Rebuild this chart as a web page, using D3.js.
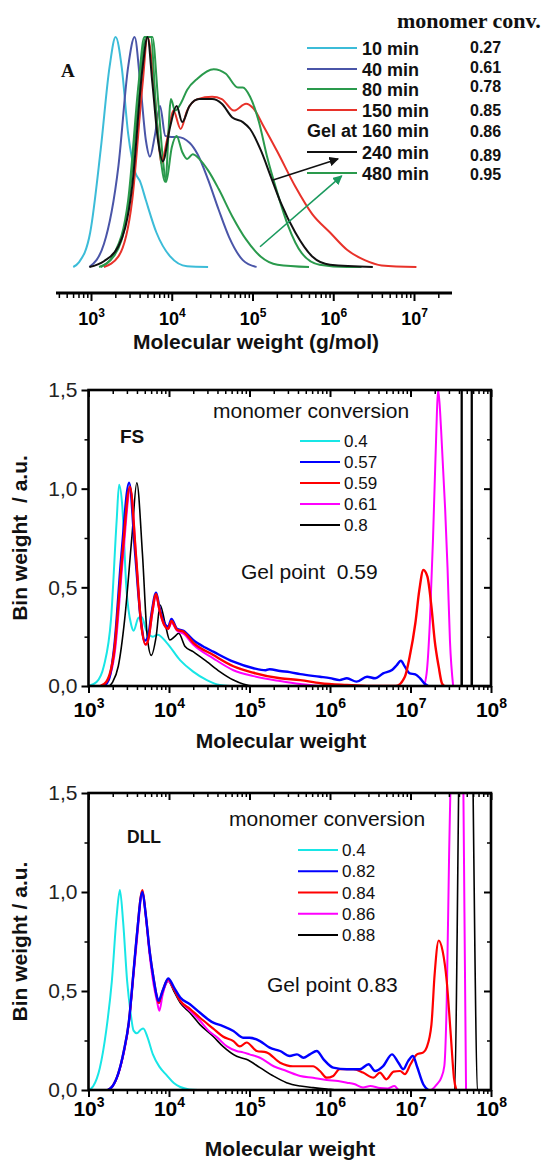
<!DOCTYPE html>
<html>
<head>
<meta charset="utf-8">
<script src="https://cdn.jsdelivr.net/npm/d3@7"></script>
<style>
  body { margin: 0; background: #fff; }
  svg { display: block; }
</style>
</head>
<body>
<svg id="fig" width="544" height="1162"></svg>
<script>
// ---------- Panel A: GPC molecular weight distributions (log10 M, normalised height) ----------
const aNames = ["10 min", "40 min", "80 min", "150 min", "240 min", "480 min"];
const aConv = ["0.27", "0.61", "0.78", "0.85", "0.86", "0.89", "0.95"];
const aColors = ["#3cbcd8", "#4a55a8", "#2a9a4c", "#e8322a", "#111111", "#2a9a4c"];

const a10 = [[2.78,0],[2.85,0.02],[2.99,0.15],[3.12,0.51],[3.23,0.87],[3.305,1.0],[3.38,0.87],[3.46,0.58],[3.55,0.41],[3.61,0.37],[3.68,0.29],[3.81,0.15],[3.98,0.046],[4.19,0.003],[4.45,0]];
const a40 = [[2.98,0],[3.16,0.10],[3.34,0.44],[3.46,0.87],[3.54,1.0],[3.61,0.8],[3.68,0.55],[3.73,0.48],[3.79,0.57],[3.855,0.70],[3.92,0.57],[4.0,0.565],[4.07,0.565],[4.22,0.54],[4.32,0.49],[4.45,0.38],[4.58,0.25],[4.71,0.13],[4.88,0.03],[5.05,0]];
const a80 = [[3.10,0],[3.29,0.05],[3.46,0.26],[3.59,0.73],[3.68,1.0],[3.76,1.0],[3.83,0.73],[3.89,0.47],[3.93,0.37],[4.0,0.52],[4.06,0.57],[4.13,0.50],[4.19,0.47],[4.26,0.49],[4.34,0.47],[4.45,0.42],[4.58,0.34],[4.75,0.22],[4.92,0.12],[5.10,0.046],[5.31,0.01],[5.70,0]];
const a150 = [[3.16,0],[3.34,0.046],[3.51,0.29],[3.64,0.80],[3.70,1.0],[3.76,0.87],[3.83,0.58],[3.87,0.45],[3.94,0.55],[4.02,0.68],[4.11,0.60],[4.19,0.68],[4.32,0.73],[4.50,0.74],[4.62,0.73],[4.77,0.68],[4.92,0.71],[5.01,0.69],[5.14,0.61],[5.31,0.50],[5.53,0.35],[5.74,0.23],[5.96,0.15],[6.17,0.075],[6.39,0.03],[6.60,0.007],[7.03,0]];
const a240 = [[2.98,0],[3.16,0.025],[3.34,0.09],[3.51,0.35],[3.64,0.87],[3.70,1.0],[3.76,0.80],[3.83,0.55],[3.89,0.46],[3.98,0.61],[4.06,0.70],[4.13,0.63],[4.22,0.70],[4.34,0.73],[4.50,0.73],[4.62,0.71],[4.75,0.65],[4.88,0.63],[4.97,0.60],[5.10,0.51],[5.23,0.39],[5.35,0.28],[5.53,0.15],[5.74,0.046],[5.96,0.01],[6.49,0]];
const a480 = [[3.12,0],[3.29,0.06],[3.46,0.29],[3.59,0.80],[3.66,1.0],[3.74,1.0],[3.81,0.66],[3.86,0.48],[3.92,0.37],[3.99,0.73],[4.04,0.68],[4.11,0.71],[4.19,0.77],[4.32,0.82],[4.52,0.86],[4.67,0.84],[4.82,0.78],[4.88,0.78],[4.97,0.74],[5.08,0.63],[5.18,0.48],[5.31,0.32],[5.44,0.18],[5.61,0.06],[5.83,0.01],[6.17,0],[6.35,0]];
// arrows from curves to legend entries: [start, end] in (log10 M, height)
const arrow240 = [[5.255,0.378],[6.06,0.47]];
const arrow480 = [[5.093,0.088],[6.105,0.396]];

// ---------- Panel FS: simulated bin weights (log10 M, bin weight) ----------
const fsNames = ["0.4", "0.57", "0.59", "0.61", "0.8"];
const fs04 = [[3.0,0],[3.1,0.02],[3.19,0.10],[3.28,0.34],[3.35,0.84],[3.38,1.02],[3.42,0.91],[3.47,0.50],[3.53,0.31],[3.56,0.28],[3.62,0.345],[3.66,0.35],[3.72,0.28],[3.80,0.25],[3.86,0.26],[3.97,0.22],[4.14,0.13],[4.30,0.073],[4.47,0.03],[4.63,0.005],[4.75,0]];
const fs057 = [[3.19,0],[3.25,0.03],[3.32,0.2],[3.41,0.67],[3.505,1.03],[3.58,0.67],[3.65,0.335],[3.70,0.23],[3.74,0.25],[3.78,0.36],[3.84,0.473],[3.88,0.40],[3.94,0.32],[3.99,0.30],[4.03,0.34],[4.10,0.29],[4.18,0.28],[4.30,0.233],[4.45,0.195],[4.55,0.174],[4.80,0.123],[5.05,0.09],[5.2,0.08],[5.25,0.085],[5.38,0.076],[5.5,0.07],[5.63,0.06],[5.875,0.047],[6.0,0.04],[6.12,0.030],[6.21,0.039],[6.33,0.022],[6.46,0.047],[6.56,0.039],[6.66,0.064],[6.77,0.081],[6.83,0.106],[6.88,0.128],[6.93,0.098],[6.99,0.064],[7.06,0.059],[7.12,0.039],[7.18,0.01],[7.22,0]];
const fs059 = [[3.15,0],[3.22,0.02],[3.32,0.18],[3.42,0.66],[3.515,1.01],[3.59,0.66],[3.65,0.33],[3.71,0.21],[3.75,0.25],[3.79,0.37],[3.84,0.465],[3.88,0.39],[3.94,0.31],[3.99,0.29],[4.03,0.33],[4.10,0.285],[4.18,0.275],[4.30,0.22],[4.55,0.157],[4.80,0.10],[5.05,0.067],[5.38,0.039],[5.63,0.03],[5.88,0.014],[6.21,0.005],[6.5,0],[6.82,0],[6.93,0.047],[6.99,0.149],[7.06,0.318],[7.11,0.487],[7.16,0.588],[7.21,0.554],[7.26,0.402],[7.30,0.233],[7.35,0.098],[7.39,0.014],[7.42,0]];
const fs061 = [[3.16,0],[3.23,0.02],[3.33,0.18],[3.43,0.66],[3.52,1.0],[3.59,0.66],[3.65,0.33],[3.71,0.21],[3.75,0.25],[3.79,0.36],[3.84,0.46],[3.88,0.385],[3.94,0.31],[3.99,0.29],[4.03,0.32],[4.10,0.28],[4.18,0.265],[4.30,0.21],[4.55,0.14],[4.80,0.08],[5.05,0.05],[5.38,0.025],[5.63,0.01],[5.88,0],[7.16,0],[7.20,0.064],[7.24,0.318],[7.28,0.75],[7.31,1.15],[7.345,1.5],[7.38,1.3],[7.43,0.9],[7.46,0.6],[7.49,0.23],[7.53,0]];
const fs08 = [[3.26,0],[3.30,0.02],[3.37,0.1],[3.45,0.34],[3.54,0.76],[3.60,1.03],[3.67,0.67],[3.73,0.25],[3.78,0.155],[3.84,0.25],[3.89,0.41],[3.95,0.32],[4.01,0.233],[4.07,0.25],[4.12,0.267],[4.20,0.2],[4.30,0.174],[4.47,0.123],[4.63,0.073],[4.80,0.03],[4.92,0.01],[5.05,0],[7.630,0],[7.636,5],[7.642,0],[7.755,0],[7.761,5],[7.767,0],[7.9,0]];

// ---------- Panel DLL ----------
const dllNames = ["0.4", "0.82", "0.84", "0.86", "0.88"];
const dll04 = [[3.0,0],[3.06,0.02],[3.14,0.11],[3.22,0.3],[3.29,0.55],[3.35,0.88],[3.39,1.01],[3.43,0.85],[3.48,0.55],[3.52,0.40],[3.56,0.30],[3.60,0.287],[3.65,0.305],[3.68,0.31],[3.73,0.27],[3.80,0.18],[3.88,0.118],[3.97,0.075],[4.06,0.035],[4.14,0.015],[4.25,0.003],[4.36,0]];
const dll082 = [[3.24,0],[3.30,0.02],[3.37,0.084],[3.44,0.2],[3.50,0.34],[3.56,0.6],[3.60,0.78],[3.67,1.0],[3.71,0.89],[3.76,0.70],[3.81,0.56],[3.85,0.47],[3.87,0.45],[3.92,0.50],[3.99,0.564],[4.06,0.52],[4.14,0.467],[4.26,0.433],[4.385,0.39],[4.55,0.34],[4.67,0.323],[4.80,0.298],[4.92,0.264],[5.0,0.264],[5.13,0.247],[5.25,0.214],[5.38,0.197],[5.50,0.172],[5.59,0.18],[5.67,0.163],[5.75,0.18],[5.835,0.197],[5.92,0.155],[6.04,0.113],[6.21,0.105],[6.37,0.105],[6.48,0.13],[6.56,0.096],[6.66,0.121],[6.77,0.18],[6.85,0.138],[6.91,0.105],[6.97,0.146],[7.03,0.172],[7.08,0.12],[7.16,0.028],[7.22,0]];
const dll084 = [[3.24,0],[3.30,0.02],[3.37,0.084],[3.44,0.2],[3.50,0.34],[3.56,0.6],[3.60,0.78],[3.67,1.01],[3.71,0.89],[3.76,0.70],[3.81,0.56],[3.85,0.47],[3.87,0.44],[3.92,0.50],[3.99,0.56],[4.06,0.51],[4.14,0.45],[4.26,0.41],[4.385,0.365],[4.55,0.31],[4.67,0.27],[4.80,0.247],[4.88,0.22],[4.965,0.24],[5.09,0.197],[5.21,0.19],[5.38,0.138],[5.54,0.12],[5.79,0.12],[5.875,0.096],[5.96,0.062],[6.04,0.071],[6.12,0.105],[6.29,0.105],[6.41,0.088],[6.54,0.062],[6.62,0.088],[6.70,0.054],[6.79,0.093],[6.87,0.096],[6.93,0.08],[7.0,0.13],[7.08,0.18],[7.16,0.19],[7.20,0.214],[7.26,0.33],[7.30,0.585],[7.35,0.755],[7.40,0.70],[7.45,0.55],[7.50,0.28],[7.54,0.06],[7.57,0]];
const dll086 = [[3.24,0],[3.30,0.02],[3.37,0.08],[3.44,0.19],[3.50,0.33],[3.56,0.58],[3.60,0.75],[3.67,1.0],[3.71,0.88],[3.76,0.68],[3.81,0.53],[3.85,0.45],[3.88,0.40],[3.92,0.48],[3.99,0.55],[4.06,0.51],[4.14,0.45],[4.26,0.40],[4.385,0.35],[4.49,0.30],[4.6,0.265],[4.72,0.22],[4.84,0.197],[4.92,0.19],[5.0,0.18],[5.13,0.163],[5.3,0.12],[5.46,0.096],[5.63,0.071],[5.79,0.062],[5.96,0.05],[6.1,0.045],[6.21,0.037],[6.3,0.03],[6.41,0.013],[6.5,0.02],[6.62,0.01],[6.72,0.008],[6.80,0.02],[6.86,0],[7.25,0],[7.33,0.03],[7.38,0.06],[7.42,0.12],[7.45,0.45],[7.48,1.2],[7.50,1.6],[7.58,3.0],[7.655,1.6],[7.67,0.9],[7.69,0]];
const dll088 = [[3.24,0],[3.30,0.02],[3.37,0.08],[3.44,0.19],[3.50,0.33],[3.56,0.59],[3.60,0.77],[3.67,1.0],[3.71,0.89],[3.76,0.69],[3.81,0.55],[3.85,0.47],[3.88,0.44],[3.92,0.49],[3.99,0.55],[4.06,0.50],[4.14,0.44],[4.26,0.39],[4.385,0.33],[4.55,0.27],[4.67,0.22],[4.84,0.17],[4.96,0.155],[5.13,0.113],[5.30,0.07],[5.46,0.037],[5.63,0.02],[5.79,0.012],[5.96,0.005],[6.1,0],[7.55,0],[7.58,0.8],[7.60,1.6],[7.69,3.0],[7.775,1.6],[7.80,0.7],[7.83,0],[7.95,0]];

const yTickVals = [0, 0.5, 1.0, 1.5];
const yMinorVals = [0.25, 0.75, 1.25];
const decades = [1e3, 1e4, 1e5, 1e6, 1e7, 1e8];

// ---------- drawing ----------
const SANS = "'Liberation Sans', Arial, Helvetica, sans-serif";
const SERIF = "'Liberation Serif', 'Times New Roman', serif";
const svg = d3.select("#fig");
svg.append("rect").attr("width", 544).attr("height", 1162).attr("fill", "#fff");

const lg = v => Math.pow(10, v);
function minorTicks(lo, hi) {
  const out = [];
  for (let e = lo; e < hi; e++) for (let k = 2; k <= 9; k++) out.push(k * Math.pow(10, e));
  return out;
}
function styleAxis(sel, w) {
  sel.select("path.domain").remove();
  sel.selectAll(".tick line").attr("stroke", "#000").attr("stroke-width", w);
}
function decadeLabels(g, size, sup, dy) {
  g.selectAll(".tick").each(function (d) {
    const e = Math.round(Math.log10(d));
    const t = d3.select(this).append("text")
      .attr("y", dy).attr("text-anchor", "middle")
      .attr("font-family", SANS).attr("font-weight", "bold")
      .attr("font-size", size).attr("fill", "#000");
    t.append("tspan").text("10");
    t.append("tspan").attr("font-size", sup).attr("dy", -size * 0.42).text(e);
  });
}
function txt(x, y, s, size, opts = {}) {
  return svg.append("text").attr("x", x).attr("y", y)
    .attr("font-family", opts.family || SANS)
    .attr("font-weight", opts.weight || "normal")
    .attr("font-size", size)
    .attr("fill", opts.fill || "#111")
    .attr("text-anchor", opts.anchor || "start")
    .style("white-space", "pre")
    .text(s);
}

// ===== Panel A =====
(function () {
  const x = d3.scaleLog().domain([lg(2.5666), lg(7.4706)]).range([56, 452]);
  const y = d3.scaleLinear().domain([0, 1]).range([267, 37]);
  const line = d3.line().x(d => x(lg(d[0]))).y(d => y(d[1])).curve(d3.curveMonotoneX);
  const series = [a10, a40, a80, a150, a480, a240];
  const cols = [aColors[0], aColors[1], aColors[2], aColors[3], aColors[5], aColors[4]];
  const g = svg.append("g");
  series.forEach((s, i) => g.append("path").attr("d", line(s)).attr("fill", "none")
    .attr("stroke", cols[i]).attr("stroke-width", 2).attr("stroke-linejoin", "round"));

  // bottom axis only
  const [d0, d1] = x.domain();
  const minors = minorTicks(2, 8).filter(v => v >= d0 && v <= d1);
  const ga = svg.append("g").attr("transform", "translate(0,293)");
  ga.append("g").call(d3.axisBottom(x).tickValues(minors).tickSize(5).tickSizeOuter(0).tickFormat(""))
    .call(s => styleAxis(s, 1.5));
  const gm = ga.append("g").call(d3.axisBottom(x).tickValues(decades.slice(0, 5)).tickSize(8).tickSizeOuter(0).tickFormat(""))
    .call(s => styleAxis(s, 2));
  ga.append("line").attr("x1", x.range()[0]).attr("x2", x.range()[1]).attr("stroke", "#000").attr("stroke-width", 3);
  decadeLabels(gm, 18, 12, 32);
  txt(256, 349, "Molecular weight (g/mol)", 21, { weight: "bold", anchor: "middle" });
  txt(61, 77, "A", 19, { family: SERIF, weight: "bold" });

  // legend
  const rowsY = [48, 69, 89, 110, 152, 173];
  const legSeries = [0, 1, 2, 3, 4, 5];
  legSeries.forEach((k, i) => {
    svg.append("line").attr("x1", 307).attr("x2", 357).attr("y1", rowsY[i]).attr("y2", rowsY[i])
      .attr("stroke", aColors[k]).attr("stroke-width", 2);
    txt(362, rowsY[i] + 7, aNames[k], 18, { weight: "bold" });
  });
  txt(307, 137, "Gel at 160 min", 18, { weight: "bold" });
  const convY = [53, 73, 92, 116, 137, 161, 180];
  aConv.forEach((c, i) => txt(470, convY[i], c, 16, { weight: "bold" }));
  txt(397, 28, "monomer conv.", 22, { family: SERIF, weight: "bold" });

  // arrows
  const defs = svg.append("defs");
  [["arrBlack", aColors[4]], ["arrGreen", "#1a9a5e"]].forEach(([id, c]) => {
    defs.append("marker").attr("id", id).attr("viewBox", "0 0 10 10").attr("refX", 9).attr("refY", 5)
      .attr("markerWidth", 6).attr("markerHeight", 6).attr("orient", "auto")
      .append("path").attr("d", "M0,0 L10,5 L0,10 z").attr("fill", c);
  });
  [[arrow240, aColors[4], "arrBlack"], [arrow480, "#1a9a5e", "arrGreen"]].forEach(([a, c, m]) => {
    svg.append("line").attr("x1", x(lg(a[0][0]))).attr("y1", y(a[0][1]))
      .attr("x2", x(lg(a[1][0]))).attr("y2", y(a[1][1]))
      .attr("stroke", c).attr("stroke-width", 1.6).attr("marker-end", `url(#${m})`);
  });
})();

// ===== Panels FS and DLL =====
function gelPanel(p) {
  const x = d3.scaleLog().domain([1e3, 1e8]).range([p.left, p.right]);
  const y = d3.scaleLinear().domain([0, 1.5]).range([p.bottom, p.top]);
  const line = d3.line().x(d => x(lg(d[0]))).y(d => y(d[1])).curve(d3.curveMonotoneX);
  const clipId = "clip" + p.id;
  svg.append("clipPath").attr("id", clipId).append("rect")
    .attr("x", p.left).attr("y", p.top).attr("width", p.right - p.left).attr("height", p.bottom - p.top);
  const cg = svg.append("g").attr("clip-path", `url(#${clipId})`);
  p.order.forEach(i => cg.append("path").attr("d", line(p.series[i])).attr("fill", "none")
    .attr("stroke", p.colors[i]).attr("stroke-width", p.widths[i]).attr("stroke-linejoin", "round"));

  const minX = minorTicks(3, 8);
  // bottom (outward) and top (inward)
  const gb = svg.append("g").attr("transform", `translate(0,${p.bottom})`);
  gb.append("g").call(d3.axisBottom(x).tickValues(minX).tickSize(4).tickSizeOuter(0).tickFormat("")).call(s => styleAxis(s, 1.5));
  const gbm = gb.append("g").call(d3.axisBottom(x).tickValues(decades).tickSize(7).tickSizeOuter(0).tickFormat("")).call(s => styleAxis(s, 2));
  decadeLabels(gbm, 21, 14, p.xLabDy);
  const gt = svg.append("g").attr("transform", `translate(0,${p.top})`);
  gt.append("g").call(d3.axisTop(x).tickValues(minX).tickSize(-4).tickSizeOuter(0).tickFormat("")).call(s => styleAxis(s, 1.5));
  gt.append("g").call(d3.axisTop(x).tickValues(decades).tickSize(-7).tickSizeOuter(0).tickFormat("")).call(s => styleAxis(s, 2));
  // left (outward, labelled) and right (inward)
  const gl = svg.append("g").attr("transform", `translate(${p.left},0)`);
  gl.append("g").call(d3.axisLeft(y).tickValues(yMinorVals).tickSize(4).tickSizeOuter(0).tickFormat("")).call(s => styleAxis(s, 1.5));
  gl.append("g").call(d3.axisLeft(y).tickValues(yTickVals).tickSize(7).tickSizeOuter(0).tickPadding(4)
      .tickFormat(d => d.toFixed(1).replace(".", ",")))
    .call(s => styleAxis(s, 2))
    .call(s => s.selectAll("text").attr("font-family", SANS).attr("font-size", 21).attr("fill", "#222"));
  const gr = svg.append("g").attr("transform", `translate(${p.right},0)`);
  gr.append("g").call(d3.axisRight(y).tickValues(yMinorVals).tickSize(-4).tickSizeOuter(0).tickFormat("")).call(s => styleAxis(s, 1.5));
  gr.append("g").call(d3.axisRight(y).tickValues(yTickVals).tickSize(-7).tickSizeOuter(0).tickFormat("")).call(s => styleAxis(s, 2));
  // frame
  svg.append("rect").attr("x", p.left).attr("y", p.top).attr("width", p.right - p.left).attr("height", p.bottom - p.top)
    .attr("fill", "none").attr("stroke", "#000").attr("stroke-width", 2.6);

  // titles and annotations
  txt(p.xTitle[0], p.xTitle[1], "Molecular weight", 21, { weight: "bold", anchor: "middle" });
  svg.append("text").attr("transform", `translate(27,${(p.top + p.bottom) / 2}) rotate(-90)`)
    .attr("text-anchor", "middle").attr("font-family", SANS).attr("font-weight", "bold")
    .attr("font-size", 21).attr("fill", "#111").style("white-space", "pre").text(p.yTitle);
  txt(p.tag[0], p.tag[1], p.tag[2], p.tag[3], { weight: "bold" });
  txt(p.mc[0], p.mc[1], "monomer conversion", 21);
  txt(p.gel[0], p.gel[1], p.gel[2], 21);
  p.names.forEach((n, i) => {
    const ly = p.leg.y0 + i * p.leg.dy;
    svg.append("line").attr("x1", p.leg.x1).attr("x2", p.leg.x2).attr("y1", ly).attr("y2", ly)
      .attr("stroke", p.colors[i]).attr("stroke-width", 2.2);
    txt(p.leg.x2 + 4, ly + 6, n, 17);
  });
}

const gelColors = ["#18e6e6", "#0000ff", "#ff0000", "#ff00ff", "#000000"];

gelPanel({
  id: "fs", left: 88.5, right: 491, top: 390, bottom: 686,
  series: [fs04, fs057, fs059, fs061, fs08], colors: gelColors,
  widths: [2, 2.4, 2.4, 2, 1.6], order: [0, 4, 3, 1, 2],
  names: fsNames, xLabDy: 31, xTitle: [281, 748], yTitle: "Bin weight  / a.u.",
  tag: [120, 443, "FS", 19], mc: [213, 418], gel: [241, 579, "Gel point  0.59"],
  leg: { x1: 300, x2: 340, y0: 441, dy: 21 }
});

gelPanel({
  id: "dll", left: 88.5, right: 491, top: 793, bottom: 1090,
  series: [dll04, dll082, dll084, dll086, dll088], colors: gelColors,
  widths: [2, 2.4, 2.2, 2, 1.6], order: [0, 4, 3, 2, 1],
  names: dllNames, xLabDy: 26, xTitle: [290, 1156], yTitle: "Bin weight / a.u.",
  tag: [127, 843, "DLL", 17.5], mc: [229, 826], gel: [267, 992, "Gel point 0.83"],
  leg: { x1: 298, x2: 338, y0: 850, dy: 21.25 }
});
</script>
</body>
</html>
